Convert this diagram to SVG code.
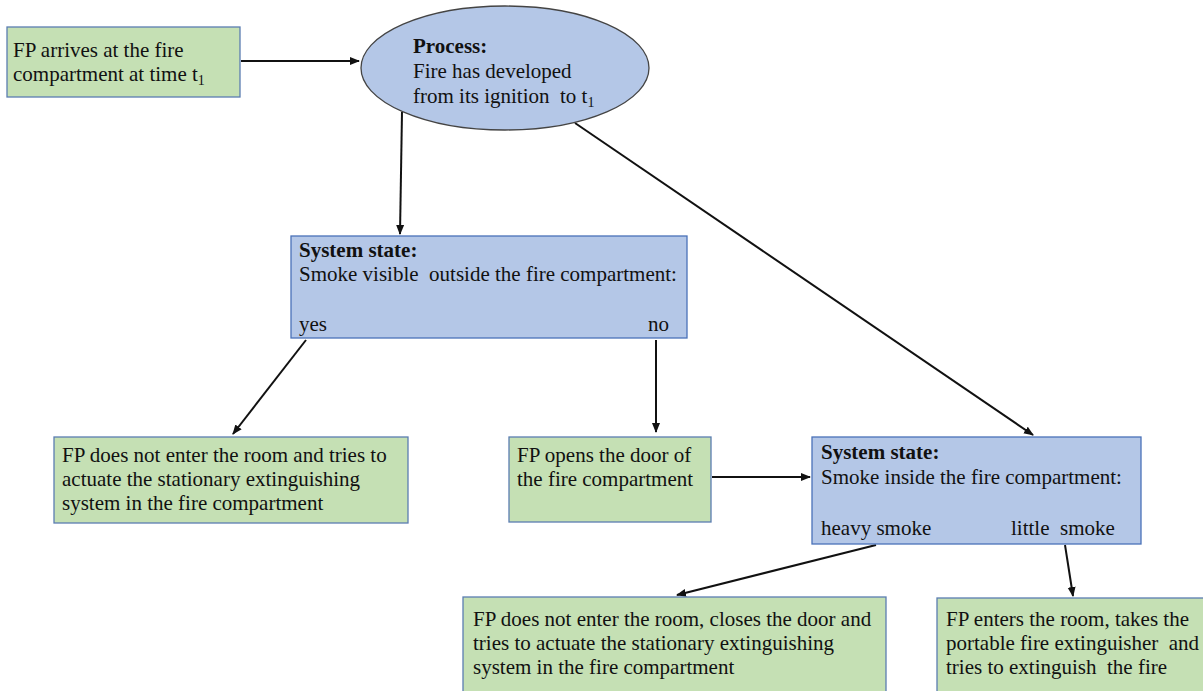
<svg xmlns="http://www.w3.org/2000/svg" width="1203" height="691" viewBox="0 0 1203 691">
  <style>
    text { font-family: "Liberation Serif", "Times New Roman", serif; font-size: 21px; fill: #111; white-space: pre; }
    .b { font-weight: bold; }
    .sub { font-size: 14px; }
    .act { fill: #C5E0B4; stroke: #5B7DB1; stroke-width: 1.3; }
    .state { fill: #B4C7E7; stroke: #4A72B8; stroke-width: 1.3; }
    .proc { fill: #B4C7E7; stroke: #444; stroke-width: 1.3; }
    .edge { stroke: #111; stroke-width: 2; fill: none; marker-end: url(#arr); }
  </style>
  <defs>
    <marker id="arr" viewBox="0 0 10 10" refX="9" refY="5" markerWidth="5" markerHeight="5" orient="auto" markerUnits="strokeWidth">
      <path d="M0,1 L10,5 L0,9 z" fill="#111"/>
    </marker>
  </defs>
  <rect width="1203" height="691" fill="#fff"/>

  <g id="connectors">
    <line class="edge" x1="241" y1="61" x2="359" y2="61"/>
    <line class="edge" x1="402" y1="112" x2="400" y2="234"/>
    <line class="edge" x1="575" y1="123" x2="1033" y2="435"/>
    <line class="edge" x1="306" y1="340" x2="233" y2="434"/>
    <line class="edge" x1="656" y1="340" x2="656" y2="432"/>
    <line class="edge" x1="712" y1="477" x2="810" y2="477"/>
    <line class="edge" x1="876" y1="545" x2="677" y2="595"/>
    <line class="edge" x1="1065" y1="545" x2="1073" y2="596"/>
  </g>

  <g id="n-arrive">
    <rect class="act" x="7" y="27" width="233" height="70"/>
    <text x="13" y="57">FP arrives at the fire</text>
    <text x="13" y="81">compartment at time t<tspan class="sub" dy="4">1</tspan></text>
  </g>

  <g id="n-process">
    <ellipse class="proc" cx="505" cy="68" rx="144" ry="62"/>
    <text class="b" x="413" y="53">Process:</text>
    <text x="413" y="78">Fire has developed</text>
    <text x="413" y="103">from its ignition  to t<tspan class="sub" dy="4">1</tspan></text>
  </g>

  <g id="n-state-outside">
    <rect class="state" x="291" y="236" width="396" height="102"/>
    <text class="b" x="299" y="257">System state:</text>
    <text x="299" y="281">Smoke visible  outside the fire compartment:</text>
    <text x="299" y="331">yes</text>
    <text x="669" y="331" text-anchor="end">no</text>
  </g>

  <g id="n-no-entry">
    <rect class="act" x="54" y="437" width="354" height="86"/>
    <text x="62" y="462">FP does not enter the room and tries to</text>
    <text x="62" y="486">actuate the stationary extinguishing</text>
    <text x="62" y="510">system in the fire compartment</text>
  </g>

  <g id="n-open-door">
    <rect class="act" x="509" y="437" width="202" height="85"/>
    <text x="517" y="462">FP opens the door of</text>
    <text x="517" y="486">the fire compartment</text>
  </g>

  <g id="n-state-inside">
    <rect class="state" x="812" y="437" width="329" height="107"/>
    <text class="b" x="821" y="459">System state:</text>
    <text x="821" y="484">Smoke inside the fire compartment:</text>
    <text x="821" y="535">heavy smoke</text>
    <text x="1011" y="535">little  smoke</text>
  </g>

  <g id="n-close-door">
    <rect class="act" x="463" y="597" width="423" height="100"/>
    <text x="473" y="626">FP does not enter the room, closes the door and</text>
    <text x="473" y="650">tries to actuate the stationary extinguishing</text>
    <text x="473" y="674">system in the fire compartment</text>
  </g>

  <g id="n-extinguish">
    <rect class="act" x="937" y="598" width="270" height="100"/>
    <text x="946" y="626">FP enters the room, takes the</text>
    <text x="946" y="650">portable fire extinguisher  and</text>
    <text x="946" y="674">tries to extinguish  the fire</text>
  </g>
</svg>
